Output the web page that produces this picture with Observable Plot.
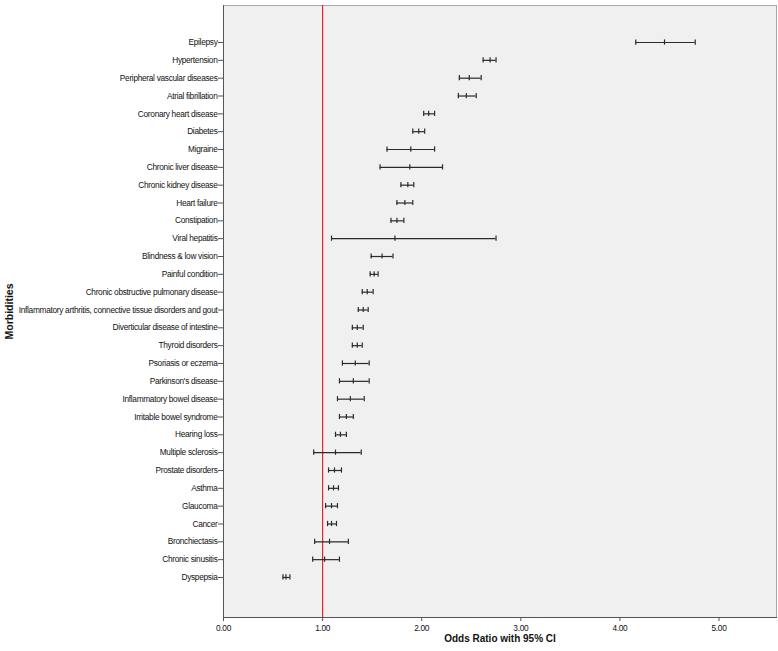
<!DOCTYPE html>
<html>
<head>
<meta charset="utf-8">
<script src="https://cdn.jsdelivr.net/npm/d3@7"></script>
<script src="https://cdn.jsdelivr.net/npm/@observablehq/plot@0.6"></script>
<style>
  body { margin: 0; background: white; }
  #chart svg g[aria-label="y-axis tick label"] text,
  #chart svg g[aria-label="x-axis tick label"] text { letter-spacing: -0.3px; }
</style>
</head>
<body>
<div id="chart"></div>
<script>
const categories = [
  "Epilepsy", "Hypertension", "Peripheral vascular diseases", "Atrial fibrillation",
  "Coronary heart disease", "Diabetes", "Migraine", "Chronic liver disease",
  "Chronic kidney disease", "Heart failure", "Constipation", "Viral hepatitis",
  "Blindness & low vision", "Painful condition", "Chronic obstructive pulmonary disease",
  "Inflammatory arthritis, connective tissue disorders and gout",
  "Diverticular disease of intestine", "Thyroid disorders", "Psoriasis or eczema",
  "Parkinson's disease", "Inflammatory bowel disease", "Irritable bowel syndrome",
  "Hearing loss", "Multiple sclerosis", "Prostate disorders", "Asthma", "Glaucoma",
  "Cancer", "Bronchiectasis", "Chronic sinusitis", "Dyspepsia"
];
const lower    = [4.16, 2.62, 2.38, 2.37, 2.02, 1.91, 1.65, 1.58, 1.79, 1.75, 1.69, 1.09, 1.49, 1.48, 1.40, 1.36, 1.30, 1.30, 1.20, 1.17, 1.15, 1.17, 1.13, 0.91, 1.06, 1.06, 1.03, 1.05, 0.92, 0.90, 0.60];
const estimate = [4.45, 2.69, 2.48, 2.45, 2.07, 1.97, 1.89, 1.88, 1.86, 1.83, 1.75, 1.73, 1.60, 1.52, 1.45, 1.41, 1.35, 1.35, 1.33, 1.31, 1.28, 1.24, 1.18, 1.13, 1.12, 1.11, 1.09, 1.09, 1.07, 1.02, 0.63];
const upper    = [4.76, 2.75, 2.60, 2.55, 2.13, 2.03, 2.13, 2.21, 1.92, 1.91, 1.82, 2.75, 1.71, 1.56, 1.51, 1.46, 1.41, 1.40, 1.47, 1.47, 1.42, 1.31, 1.24, 1.39, 1.19, 1.16, 1.15, 1.14, 1.26, 1.17, 0.67];
const xTicks = [0, 1, 2, 3, 4, 5];
const referenceLine = [1];

const data = categories.map((c, i) => ({c, lo: lower[i], est: estimate[i], hi: upper[i]}));
const fmt = d => d.toFixed(2);
const barColor = "#2a2a2a";
const capOpts = {y: "c", insetTop: 6.3, insetBottom: 6.3, stroke: barColor, strokeWidth: 1.2};

const chart = Plot.plot({
  width: 778,
  height: 651,
  marginLeft: 223,
  marginRight: 2,
  marginTop: 5,
  marginBottom: 34,
  style: {fontFamily: "'Liberation Sans', Arial, sans-serif", fontSize: "8.3px", background: "white", color: "#111"},
  x: {domain: [0, 5.58], label: null},
  y: {domain: categories, range: [33.1, 585.9], padding: 0, round: false, label: null},
  marks: [
    Plot.frame({fill: "#f0f0f0", stroke: "#a8a8a8"}),
    Plot.frame({anchor: "left", stroke: "#555"}),
    Plot.frame({anchor: "bottom", stroke: "#555"}),
    Plot.ruleX(referenceLine, {stroke: "#e02828", strokeWidth: 1.2}),
    Plot.ruleY(data, {y: "c", x1: "lo", x2: "hi", stroke: barColor, strokeWidth: 1.2}),
    Plot.tickX(data, {x: "lo", ...capOpts}),
    Plot.tickX(data, {x: "est", ...capOpts}),
    Plot.tickX(data, {x: "hi", ...capOpts}),
    Plot.axisX({ticks: xTicks, tickFormat: fmt, tickSize: 4, tickPadding: 4, label: null, stroke: "#555"}),
    Plot.axisY({tickSize: 5, tickPadding: 1, label: null, stroke: "#555"}),
    Plot.text(["Odds Ratio with 95% CI"], {frameAnchor: "bottom", dy: 24, fontWeight: "bold", fontSize: 10, fontFamily: "'Liberation Sans', Arial, sans-serif"}),
    Plot.text(["Morbidities"], {frameAnchor: "left", textAnchor: "middle", dx: -214, rotate: -90, fontWeight: "bold", fontSize: 10.5, fontFamily: "'Liberation Sans', Arial, sans-serif"})
  ]
});
document.getElementById("chart").appendChild(chart);
</script>
</body>
</html>
